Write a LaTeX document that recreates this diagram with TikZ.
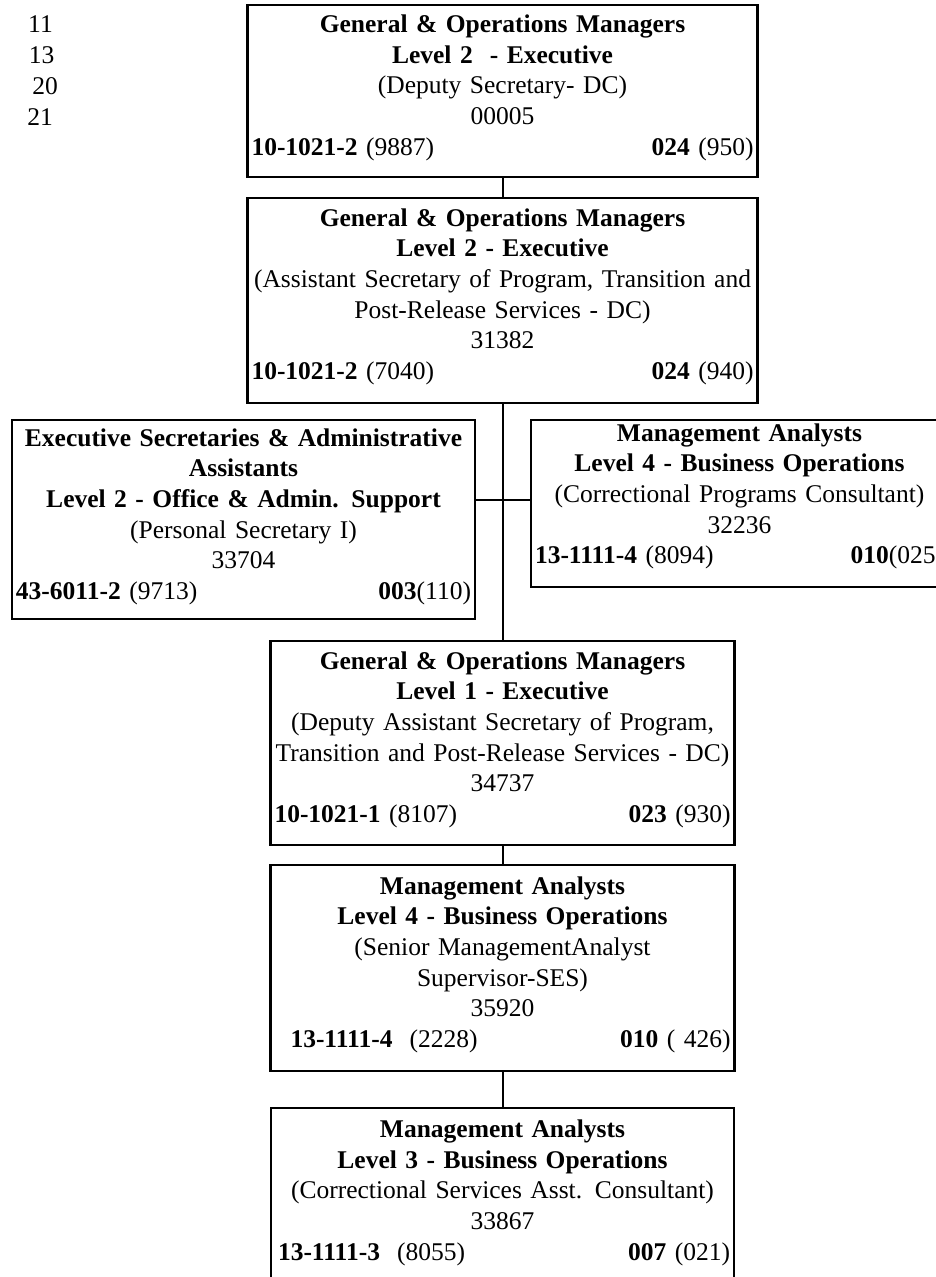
\documentclass[tikz,border=0pt]{standalone}
\usepackage{fontspec}
\setmainfont{Liberation Serif}
\begin{document}
\begin{tikzpicture}[x=1pt,y=-1pt,
  box/.style={draw, line width=2.5pt, rectangle, inner sep=0pt},
  txt/.style={anchor=base, inner sep=0pt, align=center, font=\fontsize{25.5pt}{30.7pt}\selectfont},
  num/.style={anchor=base, inner sep=0pt, font=\fontsize{25.5pt}{30.7pt}\selectfont},
  conn/.style={line width=2pt}]
\useasboundingbox (0,0) rectangle (935,1277);

% side numbers
\node[num] (n11) at (40.5,32) {11};
\node[num] (n13) at (41.5,63) {13};
\node[num] (n20) at (45,94) {20};
\node[num] (n21) at (40,125) {21};

% boxes
\node[box, minimum width=510pt, minimum height=172pt] (b1) at (502.5,91) {};
\node[box, minimum width=510pt, minimum height=205pt] (b2) at (502.5,300.5) {};
\node[box, minimum width=463pt, minimum height=199pt] (lb) at (243.5,519.5) {};
\node[box, minimum width=417pt, minimum height=167pt] (rb) at (739.5,503.5) {};
\node[box, minimum width=464pt, minimum height=204pt] (b4) at (502.5,743) {};
\node[box, minimum width=464pt, minimum height=206pt] (b5) at (502.5,968) {};
\node[box, minimum width=463pt, minimum height=200pt] (b6) at (502.5,1208) {};

% texts
\node[txt, text width=502pt] (t1) at (502.5,32.5) {\textbf{General \& Operations Managers}\\
\textbf{Level 2\ \ - Executive}\\
(Deputy Secretary- DC)\\
00005\\
\textbf{10-1021-2} (9887)\hfill\textbf{024} (950)};

\node[txt, text width=502pt] (t2) at (502.5,226) {\textbf{General \& Operations Managers}\\
\textbf{Level 2 - Executive}\\
(Assistant Secretary of Program, Transition and\\
Post-Release Services - DC)\\
31382\\
\textbf{10-1021-2} (7040)\hfill\textbf{024} (940)};

\node[txt, text width=455pt] (tl) at (243.5,446) {\textbf{Executive Secretaries \& Administrative}\\
\textbf{Assistants}\\
\textbf{Level 2 - Office \& Admin. Support}\\
(Personal Secretary I)\\
33704\\
\textbf{43-6011-2} (9713)\hfill\textbf{003}(110)\hspace{6pt}};

\node[txt, text width=409pt] (tr) at (739.5,441) {\textbf{Management Analysts}\\
\textbf{Level 4 - Business Operations}\\
(Correctional Programs Consultant)\\
32236\\
\textbf{13-1111-4} (8094)\hfill\textbf{010}(025)\hspace{4pt}};

\node[txt, text width=456pt] (t4) at (502.5,669) {\textbf{General \& Operations Managers}\\
\textbf{Level 1 - Executive}\\
(Deputy Assistant Secretary of Program,\\
Transition and Post-Release Services - DC)\\
34737\\
\textbf{10-1021-1} (8107)\hfill\textbf{023} (930)};

\node[txt, text width=456pt] (t5) at (502.5,894) {\textbf{Management Analysts}\\
\textbf{Level 4 - Business Operations}\\
(Senior ManagementAnalyst\\
Supervisor-SES)\\
35920\\
\hspace*{16pt}\textbf{13-1111-4}\ \ (2228)\hfill\textbf{010} ( 426)\hspace{6pt}};

\node[txt, text width=455pt] (t6) at (502.5,1137.5) {\textbf{Management Analysts}\\
\textbf{Level 3 - Business Operations}\\
(Correctional Services Asst. Consultant)\\
33867\\
\hspace*{3pt}\textbf{13-1111-3}\ \ (8055)\hfill\textbf{007} (021)\hspace{6pt}};

% connectors
\coordinate (j) at (502.5,500);
\draw[conn] (b1.south) -- (b2.north);
\draw[conn] (b2.south) -- (b4.north);
\draw[conn] (lb.east |- j) -- (rb.west |- j);
\draw[conn] (b4.south) -- (b5.north);
\draw[conn] (b5.south) -- (b6.north);
\end{tikzpicture}
\end{document}
